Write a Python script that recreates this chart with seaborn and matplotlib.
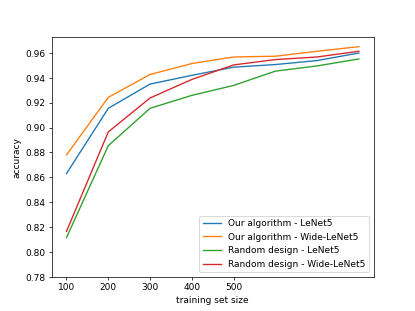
import pandas as pd
import seaborn as sns
import matplotlib
matplotlib.use('Agg')
import matplotlib.pyplot as plt

sizes = [100, 200, 300, 400, 500, 600, 700, 800]
ours_lenet = [0.863, 0.9155, 0.935, 0.942, 0.9486, 0.9507, 0.9539, 0.960]
ours_wide = [0.878, 0.9243, 0.9427, 0.9515, 0.9568, 0.9574, 0.9614, 0.9651]
rand_lenet = [0.8115, 0.8854, 0.9155, 0.9259, 0.9339, 0.9454, 0.9496, 0.9552]
rand_wide = [0.8165, 0.8965, 0.9238, 0.9387, 0.9504, 0.9547, 0.9568, 0.9614]
labels = ['Our algorithm - LeNet5', 'Our algorithm - Wide-LeNet5',
          'Random design - LeNet5', 'Random design - Wide-LeNet5']
xticks = [100, 200, 300, 400, 500]
yticks = [0.78, 0.80, 0.82, 0.84, 0.86, 0.88, 0.90, 0.92, 0.94, 0.96]

rows = []
for lab, vals in zip(labels, [ours_lenet, ours_wide, rand_lenet, rand_wide]):
    for s, v in zip(sizes, vals):
        rows.append({'training set size': s, 'accuracy': v, 'method': lab})
df = pd.DataFrame(rows)

fig, ax = plt.subplots(figsize=(6.4, 4.8), dpi=415 / 6.4)
sns.lineplot(data=df, x='training set size', y='accuracy', hue='method',
             palette='tab10', ax=ax, linewidth=1.5)
ax.set_ylim(bottom=0.78)
ax.set_xticks(xticks)
ax.set_yticks(yticks)
ax.set_yticklabels(['%.2f' % t for t in yticks])
ax.set_ylim(bottom=0.78)
ax.legend(loc='lower right')

plt.savefig('out.png')
